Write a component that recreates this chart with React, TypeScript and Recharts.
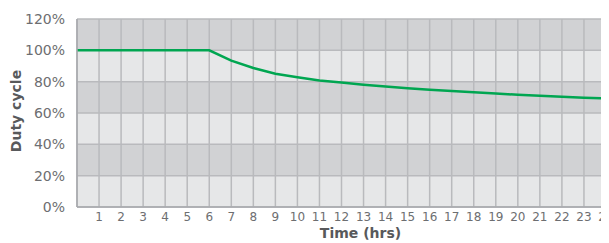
import { LineChart, Line, XAxis, YAxis, CartesianGrid } from 'recharts';

// hours 0..24
const hours = [0, 1, 2, 3, 4, 5, 6, 7, 8, 9, 10, 11, 12, 13, 14, 15, 16, 17, 18, 19, 20, 21, 22, 23, 24];
// duty cycle in %
const dutyCycle = [
  100, 100, 100, 100, 100, 100, 100, 93.4, 88.7, 85.1, 82.8, 80.8, 79.4,
  78.1, 76.9, 75.8, 74.9, 74.0, 73.2, 72.4, 71.7, 71.0, 70.4, 69.8, 69.3,
];
const yTicks = [0, 20, 40, 60, 80, 100, 120];

const data = hours.map((h, i) => ({ hour: h, duty: dutyCycle[i] }));

const font = '"DejaVu Sans", sans-serif';

export default function App() {
  return (
    <div style={{ margin: '-8px 0 0 -8px', width: 609, height: 243 }}>
      <LineChart
        width={609}
        height={243}
        data={data}
        margin={{ top: 19, right: 3, left: 0, bottom: 0 }}
      >
        <CartesianGrid
          stroke="#b9babd"
          strokeWidth={1.5}
          horizontalFill={['#d1d2d4', '#e6e7e8']}
          fillOpacity={1}
        />
        <XAxis
          dataKey="hour"
          type="number"
          domain={[0, 24]}
          ticks={hours}
          interval={0}
          tickFormatter={(v: number) => (v === 0 ? '' : String(v))}
          axisLine={{ stroke: '#a7a9ac', strokeWidth: 1.5 }}
          tickLine={false}
          tickSize={0}
          tickMargin={5}
          height={36}
          tick={{ fill: '#6d6e71', fontSize: 12, fontFamily: font }}
          label={{
            value: 'Time (hrs)',
            position: 'insideBottom',
            offset: 5,
            dx: 19,
            style: { fill: '#58595b', fontSize: 14, fontWeight: 700, fontFamily: font },
          }}
        />
        <YAxis
          type="number"
          domain={[0, 120]}
          ticks={yTicks}
          interval={0}
          tickFormatter={(v: number) => `${v}%`}
          axisLine={{ stroke: '#a7a9ac', strokeWidth: 1.5 }}
          tickLine={false}
          tickSize={0}
          tickMargin={12}
          width={77}
          tick={{ fill: '#6d6e71', fontSize: 14, fontFamily: font }}
          label={{
            value: 'Duty cycle',
            angle: -90,
            position: 'insideLeft',
            offset: 16,
            dy: -2,
            style: { fill: '#58595b', fontSize: 14, fontWeight: 700, fontFamily: font, textAnchor: 'middle' },
          }}
        />
        <Line
          type="linear"
          dataKey="duty"
          stroke="#00a651"
          strokeWidth={2.5}
          dot={false}
          isAnimationActive={false}
        />
      </LineChart>
    </div>
  );
}
